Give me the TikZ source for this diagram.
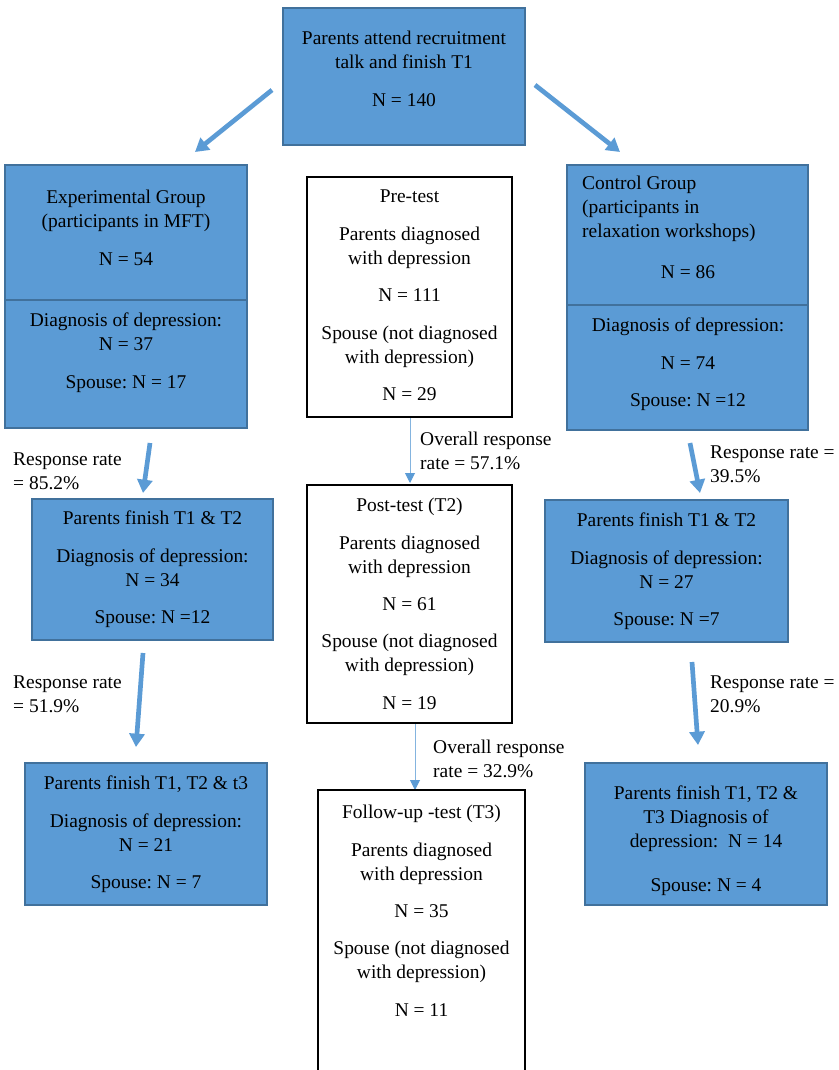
\documentclass[tikz,border=0pt]{standalone}
\usepackage{fontspec}
\setmainfont{Liberation Serif}
\frenchspacing
\usetikzlibrary{arrows.meta}
\pgfdeclarelayer{edgelayer}
\pgfdeclarelayer{nodelayer}
\pgfsetlayers{edgelayer,nodelayer,main}
\definecolor{boxblue}{HTML}{5B9BD5}
\definecolor{boxedge}{HTML}{41719C}
\tikzset{font=\fontsize{16.6pt}{20.5pt}\selectfont}
\tikzstyle{none}=[inner sep=0pt]
\tikzstyle{bluebox}=[rectangle,fill=boxblue,draw=boxedge,line width=1.5pt,inner sep=0pt]
\tikzstyle{whitebox}=[rectangle,fill=white,draw=black,line width=1.3pt,inner sep=0pt]
\tikzstyle{txt}=[inner sep=0pt,align=center,anchor=north]
\tikzstyle{note}=[inner sep=0pt,align=left,anchor=north west]
\tikzstyle{divider}=[draw=boxedge,line width=1.5pt]
\tikzstyle{flow}=[draw=boxblue,line width=4pt,-{Triangle[length=0.4cm,width=0.45cm]}]
\tikzstyle{thinflow}=[draw=boxblue!75,line width=0.8pt,-{Triangle[length=0.3cm,width=0.3cm,color=boxblue]}]

\begin{document}
\begin{tikzpicture}
	\useasboundingbox (0,0) rectangle (25.14,-32.1);
	\begin{pgfonlayer}{nodelayer}
		\node [style=bluebox, minimum width=7.26cm, minimum height=4.11cm] (0) at (12.12, -2.295) {};
		\node [style=txt] (1) at (12.12, -0.93) {Parents attend recruitment\\talk and finish T1\\[0.4cm]N = 140};
		\node [style=bluebox, minimum width=7.26cm, minimum height=7.89cm] (2) at (3.78, -8.895) {};
		\node [style=none] (3) at (0.15, -9.0) {};
		\node [style=none] (4) at (7.41, -9.0) {};
		\node [style=txt] (5) at (3.78, -5.7) {Experimental Group\\(participants in MFT)\\[0.4cm]N = 54};
		\node [style=txt] (6) at (3.78, -9.39) {Diagnosis of depression:\\N = 37\\[0.4cm]Spouse: N = 17};
		\node [style=whitebox, minimum width=6.15cm, minimum height=7.2cm] (7) at (12.285, -8.91) {};
		\node [style=txt] (8) at (12.285, -5.7) {Pre-test\\[0.4cm]Parents diagnosed\\with depression\\[0.4cm]N = 111\\[0.4cm]Spouse (not diagnosed\\with depression)\\[0.4cm]N = 29};
		\node [style=bluebox, minimum width=7.23cm, minimum height=7.95cm] (9) at (20.625, -8.925) {};
		\node [style=none] (10) at (17.01, -9.15) {};
		\node [style=none] (11) at (24.24, -9.15) {};
		\node [style=note] (12) at (17.46, -5.28) {Control Group\\(participants in\\relaxation workshops)};
		\node [style=txt] (13) at (20.64, -7.95) {N = 86};
		\node [style=txt] (14) at (20.64, -9.54) {Diagnosis of depression:\\[0.4cm]N = 74\\[0.4cm]Spouse: N =12};
		\node [style=bluebox, minimum width=7.23cm, minimum height=4.23cm] (15) at (4.575, -17.085) {};
		\node [style=txt] (16) at (4.575, -15.33) {Parents finish T1 \& T2\\[0.4cm]Diagnosis of depression:\\N = 34\\[0.4cm]Spouse: N =12};
		\node [style=bluebox, minimum width=7.29cm, minimum height=4.26cm] (17) at (19.995, -17.13) {};
		\node [style=txt] (18) at (19.995, -15.39) {Parents finish T1 \& T2\\[0.4cm]Diagnosis of depression:\\N = 27\\[0.4cm]Spouse: N =7};
		\node [style=whitebox, minimum width=6.15cm, minimum height=7.14cm] (19) at (12.285, -18.12) {};
		\node [style=txt] (20) at (12.285, -14.94) {Post-test (T2)\\[0.4cm]Parents diagnosed\\with depression\\[0.4cm]N = 61\\[0.4cm]Spouse (not diagnosed\\with depression)\\[0.4cm]N = 19};
		\node [style=none] (21) at (12.3, -12.51) {};
		\node [style=none] (22) at (12.3, -14.49) {};
		\node [style=note] (23) at (12.6, -12.96) {Overall response\\rate = 57.1\%};
		\node [style=none] (24) at (12.45, -21.69) {};
		\node [style=none] (25) at (12.45, -23.7) {};
		\node [style=note] (26) at (12.99, -22.2) {Overall response\\rate = 32.9\%};
		\node [style=whitebox, minimum width=6.21cm, minimum height=9.0cm] (27) at (12.645, -28.2) {};
		\node [style=txt] (28) at (12.645, -24.15) {Follow-up -test (T3)\\[0.4cm]Parents diagnosed\\with depression\\[0.4cm]N = 35\\[0.4cm]Spouse (not diagnosed\\with depression)\\[0.4cm]N = 11};
		\node [style=none] (29) at (4.5, -13.29) {};
		\node [style=none] (30) at (4.29, -14.79) {};
		\node [style=note] (31) at (0.39, -13.59) {Response rate\\= 85.2\%};
		\node [style=none] (32) at (4.29, -19.59) {};
		\node [style=none] (33) at (4.08, -22.41) {};
		\node [style=note] (34) at (0.39, -20.28) {Response rate\\= 51.9\%};
		\node [style=bluebox, minimum width=7.26cm, minimum height=4.26cm] (35) at (4.38, -25.02) {};
		\node [style=txt] (36) at (4.38, -23.28) {Parents finish T1, T2 \& t3\\[0.4cm]Diagnosis of depression:\\N = 21\\[0.4cm]Spouse: N = 7};
		\node [style=none] (37) at (20.7, -13.29) {};
		\node [style=none] (38) at (21.0, -14.79) {};
		\node [style=note] (39) at (21.3, -13.38) {Response rate =\\39.5\%};
		\node [style=none] (40) at (20.76, -19.86) {};
		\node [style=none] (41) at (20.94, -22.35) {};
		\node [style=note] (42) at (21.3, -20.28) {Response rate =\\20.9\%};
		\node [style=bluebox, minimum width=7.26cm, minimum height=4.26cm] (43) at (21.18, -25.02) {};
		\node [style=txt] (44) at (21.18, -23.58) {Parents finish T1, T2 \&\\T3 Diagnosis of\\depression:\ \ N = 14\\[0.6cm]Spouse: N = 4};
		\node [style=none] (45) at (8.16, -2.7) {};
		\node [style=none] (46) at (5.85, -4.56) {};
		\node [style=none] (47) at (16.05, -2.55) {};
		\node [style=none] (48) at (18.6, -4.56) {};
		\draw [style=divider] (3.center) to (4.center);
		\draw [style=divider] (10.center) to (11.center);
	\end{pgfonlayer}
	\begin{pgfonlayer}{edgelayer}
		\draw [style=flow] (45.center) to (46.center);
		\draw [style=flow] (47.center) to (48.center);
		\draw [style=flow] (29.center) to (30.center);
		\draw [style=flow] (32.center) to (33.center);
		\draw [style=flow] (37.center) to (38.center);
		\draw [style=flow] (40.center) to (41.center);
		\draw [style=thinflow] (21.center) to (22.center);
		\draw [style=thinflow] (24.center) to (25.center);
	\end{pgfonlayer}
\end{tikzpicture}
\end{document}
